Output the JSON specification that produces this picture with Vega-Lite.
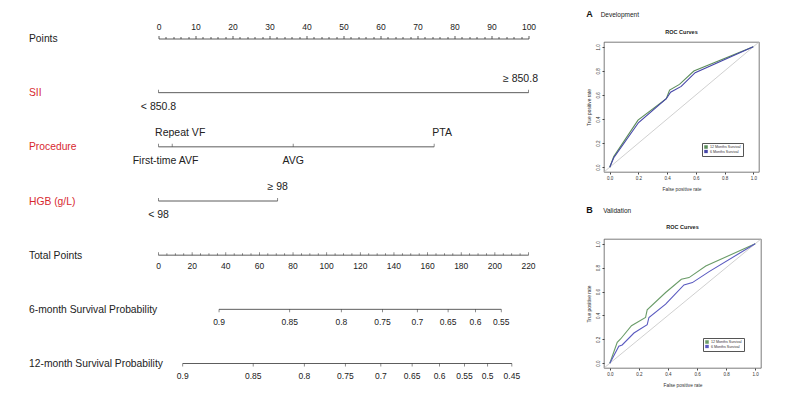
{
  "$schema": "https://vega.github.io/schema/vega-lite/v6.json",
  "background": "white",
  "padding": {"left": 28.5, "top": 10, "right": 5, "bottom": 5},
  "config": {
    "font": "Liberation Sans",
    "view": {"stroke": null},
    "axis": {"grid": false},
    "title": {"font": "Liberation Sans"},
    "legend": {"labelFont": "Liberation Sans"}
  },
  "datasets": {
    "pts_lines": [
      {"row": "SII", "pt": 0, "pt_end": 100},
      {"row": "Procedure", "pt": 0, "pt_end": 74.5},
      {"row": "HGB (g/L)", "pt": 0, "pt_end": 32.2}
    ],
    "pts_ticks": [
      {"row": "SII", "pt": 0}, {"row": "SII", "pt": 100},
      {"row": "Procedure", "pt": 0}, {"row": "Procedure", "pt": 3.7}, {"row": "Procedure", "pt": 36.4}, {"row": "Procedure", "pt": 74.5},
      {"row": "HGB (g/L)", "pt": 0}, {"row": "HGB (g/L)", "pt": 32.2}
    ],
    "pts_labels": [
      {"row": "SII", "pt": 0, "label": "< 850.8", "side": "below"},
      {"row": "SII", "pt": 100, "label": "≥ 850.8", "side": "above"},
      {"row": "Procedure", "pt": 0, "label": "First-time AVF", "side": "below"},
      {"row": "Procedure", "pt": 3.7, "label": "Repeat VF", "side": "above"},
      {"row": "Procedure", "pt": 36.4, "label": "AVG", "side": "below"},
      {"row": "Procedure", "pt": 74.5, "label": "PTA", "side": "above"},
      {"row": "HGB (g/L)", "pt": 0, "label": "< 98", "side": "below"},
      {"row": "HGB (g/L)", "pt": 32.2, "label": "≥ 98", "side": "above"}
    ],
    "tot_lines": [
      {"row": "Total Points", "tp": 0, "tp_end": 220},
      {"row": "6-month Survival Probability", "tp": 36.0, "tp_end": 203.8},
      {"row": "12-month Survival Probability", "tp": 14.4, "tp_end": 210.1}
    ],
    "tot_ticks": [
      {"row": "Total Points", "tp": 0, "kind": "major"}, {"row": "Total Points", "tp": 5, "kind": "minor"}, {"row": "Total Points", "tp": 10, "kind": "minor"}, {"row": "Total Points", "tp": 15, "kind": "minor"},
      {"row": "Total Points", "tp": 20, "kind": "major"}, {"row": "Total Points", "tp": 25, "kind": "minor"}, {"row": "Total Points", "tp": 30, "kind": "minor"}, {"row": "Total Points", "tp": 35, "kind": "minor"},
      {"row": "Total Points", "tp": 40, "kind": "major"}, {"row": "Total Points", "tp": 45, "kind": "minor"}, {"row": "Total Points", "tp": 50, "kind": "minor"}, {"row": "Total Points", "tp": 55, "kind": "minor"},
      {"row": "Total Points", "tp": 60, "kind": "major"}, {"row": "Total Points", "tp": 65, "kind": "minor"}, {"row": "Total Points", "tp": 70, "kind": "minor"}, {"row": "Total Points", "tp": 75, "kind": "minor"},
      {"row": "Total Points", "tp": 80, "kind": "major"}, {"row": "Total Points", "tp": 85, "kind": "minor"}, {"row": "Total Points", "tp": 90, "kind": "minor"}, {"row": "Total Points", "tp": 95, "kind": "minor"},
      {"row": "Total Points", "tp": 100, "kind": "major"}, {"row": "Total Points", "tp": 105, "kind": "minor"}, {"row": "Total Points", "tp": 110, "kind": "minor"}, {"row": "Total Points", "tp": 115, "kind": "minor"},
      {"row": "Total Points", "tp": 120, "kind": "major"}, {"row": "Total Points", "tp": 125, "kind": "minor"}, {"row": "Total Points", "tp": 130, "kind": "minor"}, {"row": "Total Points", "tp": 135, "kind": "minor"},
      {"row": "Total Points", "tp": 140, "kind": "major"}, {"row": "Total Points", "tp": 145, "kind": "minor"}, {"row": "Total Points", "tp": 150, "kind": "minor"}, {"row": "Total Points", "tp": 155, "kind": "minor"},
      {"row": "Total Points", "tp": 160, "kind": "major"}, {"row": "Total Points", "tp": 165, "kind": "minor"}, {"row": "Total Points", "tp": 170, "kind": "minor"}, {"row": "Total Points", "tp": 175, "kind": "minor"},
      {"row": "Total Points", "tp": 180, "kind": "major"}, {"row": "Total Points", "tp": 185, "kind": "minor"}, {"row": "Total Points", "tp": 190, "kind": "minor"}, {"row": "Total Points", "tp": 195, "kind": "minor"},
      {"row": "Total Points", "tp": 200, "kind": "major"}, {"row": "Total Points", "tp": 205, "kind": "minor"}, {"row": "Total Points", "tp": 210, "kind": "minor"}, {"row": "Total Points", "tp": 215, "kind": "minor"},
      {"row": "Total Points", "tp": 220, "kind": "major"}
    ],
    "prob_ticks": [
      {"row": "6-month Survival Probability", "tp": 36.0, "prob": "0.9"},
      {"row": "6-month Survival Probability", "tp": 78.0, "prob": "0.85"},
      {"row": "6-month Survival Probability", "tp": 108.7, "prob": "0.8"},
      {"row": "6-month Survival Probability", "tp": 133.2, "prob": "0.75"},
      {"row": "6-month Survival Probability", "tp": 153.9, "prob": "0.7"},
      {"row": "6-month Survival Probability", "tp": 172.2, "prob": "0.65"},
      {"row": "6-month Survival Probability", "tp": 188.5, "prob": "0.6"},
      {"row": "6-month Survival Probability", "tp": 203.8, "prob": "0.55"},
      {"row": "12-month Survival Probability", "tp": 14.4, "prob": "0.9"},
      {"row": "12-month Survival Probability", "tp": 56.3, "prob": "0.85"},
      {"row": "12-month Survival Probability", "tp": 86.7, "prob": "0.8"},
      {"row": "12-month Survival Probability", "tp": 111.1, "prob": "0.75"},
      {"row": "12-month Survival Probability", "tp": 132.2, "prob": "0.7"},
      {"row": "12-month Survival Probability", "tp": 150.8, "prob": "0.65"},
      {"row": "12-month Survival Probability", "tp": 167.1, "prob": "0.6"},
      {"row": "12-month Survival Probability", "tp": 181.9, "prob": "0.55"},
      {"row": "12-month Survival Probability", "tp": 195.7, "prob": "0.5"},
      {"row": "12-month Survival Probability", "tp": 210.1, "prob": "0.45"}
    ],
    "diag": [
      {"fpr": -0.04, "tpr": -0.04},
      {"fpr": 1.04, "tpr": 1.04}
    ],
    "roc": [
      {"panel": "A", "series": "12 Months Survival", "ord": 0, "fpr": 0, "tpr": 0},
      {"panel": "A", "series": "12 Months Survival", "ord": 1, "fpr": 0.028, "tpr": 0.088},
      {"panel": "A", "series": "12 Months Survival", "ord": 2, "fpr": 0.197, "tpr": 0.391},
      {"panel": "A", "series": "12 Months Survival", "ord": 3, "fpr": 0.394, "tpr": 0.569},
      {"panel": "A", "series": "12 Months Survival", "ord": 4, "fpr": 0.417, "tpr": 0.64},
      {"panel": "A", "series": "12 Months Survival", "ord": 5, "fpr": 0.486, "tpr": 0.688},
      {"panel": "A", "series": "12 Months Survival", "ord": 6, "fpr": 0.586, "tpr": 0.799},
      {"panel": "A", "series": "12 Months Survival", "ord": 7, "fpr": 1, "tpr": 1},
      {"panel": "A", "series": "6 Months Survival", "ord": 0, "fpr": 0, "tpr": 0},
      {"panel": "A", "series": "6 Months Survival", "ord": 1, "fpr": 0.028, "tpr": 0.079},
      {"panel": "A", "series": "6 Months Survival", "ord": 2, "fpr": 0.201, "tpr": 0.371},
      {"panel": "A", "series": "6 Months Survival", "ord": 3, "fpr": 0.394, "tpr": 0.569},
      {"panel": "A", "series": "6 Months Survival", "ord": 4, "fpr": 0.424, "tpr": 0.623},
      {"panel": "A", "series": "6 Months Survival", "ord": 5, "fpr": 0.498, "tpr": 0.671},
      {"panel": "A", "series": "6 Months Survival", "ord": 6, "fpr": 0.595, "tpr": 0.785},
      {"panel": "A", "series": "6 Months Survival", "ord": 7, "fpr": 1, "tpr": 1},
      {"panel": "B", "series": "12 Months Survival", "ord": 0, "fpr": 0, "tpr": 0},
      {"panel": "B", "series": "12 Months Survival", "ord": 1, "fpr": 0.051, "tpr": 0.175},
      {"panel": "B", "series": "12 Months Survival", "ord": 2, "fpr": 0.074, "tpr": 0.203},
      {"panel": "B", "series": "12 Months Survival", "ord": 3, "fpr": 0.149, "tpr": 0.314},
      {"panel": "B", "series": "12 Months Survival", "ord": 4, "fpr": 0.246, "tpr": 0.383},
      {"panel": "B", "series": "12 Months Survival", "ord": 5, "fpr": 0.257, "tpr": 0.447},
      {"panel": "B", "series": "12 Months Survival", "ord": 6, "fpr": 0.384, "tpr": 0.592},
      {"panel": "B", "series": "12 Months Survival", "ord": 7, "fpr": 0.492, "tpr": 0.703},
      {"panel": "B", "series": "12 Months Survival", "ord": 8, "fpr": 0.545, "tpr": 0.717},
      {"panel": "B", "series": "12 Months Survival", "ord": 9, "fpr": 0.66, "tpr": 0.814},
      {"panel": "B", "series": "12 Months Survival", "ord": 10, "fpr": 1, "tpr": 1},
      {"panel": "B", "series": "6 Months Survival", "ord": 0, "fpr": 0, "tpr": 0},
      {"panel": "B", "series": "6 Months Survival", "ord": 1, "fpr": 0.062, "tpr": 0.142},
      {"panel": "B", "series": "6 Months Survival", "ord": 2, "fpr": 0.085, "tpr": 0.153},
      {"panel": "B", "series": "6 Months Survival", "ord": 3, "fpr": 0.166, "tpr": 0.253},
      {"panel": "B", "series": "6 Months Survival", "ord": 4, "fpr": 0.257, "tpr": 0.322},
      {"panel": "B", "series": "6 Months Survival", "ord": 5, "fpr": 0.269, "tpr": 0.383},
      {"panel": "B", "series": "6 Months Survival", "ord": 6, "fpr": 0.384, "tpr": 0.494},
      {"panel": "B", "series": "6 Months Survival", "ord": 7, "fpr": 0.51, "tpr": 0.656},
      {"panel": "B", "series": "6 Months Survival", "ord": 8, "fpr": 0.568, "tpr": 0.675},
      {"panel": "B", "series": "6 Months Survival", "ord": 9, "fpr": 0.683, "tpr": 0.767},
      {"panel": "B", "series": "6 Months Survival", "ord": 10, "fpr": 1, "tpr": 1}
    ]
  },
  "hconcat": [
    {
      "width": 370,
      "height": 325,
      "view": {"stroke": null},
      "encoding": {
        "y": {
          "field": "row", "type": "nominal",
          "scale": {"type": "point", "padding": 0, "range": [-3.5, 321.5], "domain": ["Points", "SII", "Procedure", "HGB (g/L)", "Total Points", "6-month Survival Probability", "12-month Survival Probability"]},
          "axis": {
            "orient": "left", "title": null, "domain": false, "ticks": false,
            "labelAlign": "left", "labelBaseline": "middle", "labelPadding": 130,
            "labelFontSize": 10.3, "labelLimit": 0,
            "labelColor": {"condition": {"test": "indexof(['SII','Procedure','HGB (g/L)'], datum.value) >= 0", "value": "#d7282f"}, "value": "#222222"}
          }
        }
      },
      "layer": [
        {
          "encoding": {
            "x": {
              "field": "pt", "type": "quantitative",
              "scale": {"domain": [0, 100], "nice": false, "zero": false},
              "axis": {
                "orient": "top", "title": null, "tickCount": 50, "format": "d", "offset": 3.5,
                "labelExpr": "datum.value % 10 === 0 ? datum.label : ''",
                "labelOverlap": false, "labelFlush": false,
                "tickSize": {"condition": {"test": "datum.value % 10 === 0", "value": 3}, "value": 2},
                "tickColor": "#333333", "tickWidth": 0.8, "domainColor": "#333333", "domainWidth": 0.8,
                "labelFontSize": 8.5, "labelPadding": 4.5, "labelColor": "#222222", "grid": false
              }
            }
          },
          "layer": [
            {"data": {"name": "pts_lines"}, "mark": {"type": "rule", "color": "#333333", "strokeWidth": 0.8}, "encoding": {"x2": {"field": "pt_end"}}},
            {"data": {"name": "pts_ticks"}, "mark": {"type": "tick", "orient": "vertical", "size": 3, "thickness": 0.8, "color": "#333333", "yOffset": -1.5}},
            {"data": {"name": "pts_labels"}, "transform": [{"filter": "datum.side === 'above' && indexof(['Repeat VF','PTA','≥ 850.8'], datum.label) < 0"}], "mark": {"type": "text", "dy": -14, "fontSize": 10.5, "color": "#222222", "baseline": "middle"}, "encoding": {"text": {"field": "label"}}},
            {"data": {"name": "pts_labels"}, "transform": [{"filter": "indexof(['Repeat VF','PTA'], datum.label) >= 0"}], "mark": {"type": "text", "dy": -14, "dx": 8, "fontSize": 10.5, "color": "#222222", "baseline": "middle"}, "encoding": {"text": {"field": "label"}}},
            {"data": {"name": "pts_labels"}, "transform": [{"filter": "datum.label === '≥ 850.8'"}], "mark": {"type": "text", "dy": -14, "dx": -8, "fontSize": 10.5, "color": "#222222", "baseline": "middle"}, "encoding": {"text": {"field": "label"}}},
            {"data": {"name": "pts_labels"}, "transform": [{"filter": "datum.side === 'below' && datum.label !== 'First-time AVF'"}], "mark": {"type": "text", "dy": 14, "fontSize": 10.5, "color": "#222222", "baseline": "middle"}, "encoding": {"text": {"field": "label"}}},
            {"data": {"name": "pts_labels"}, "transform": [{"filter": "datum.label === 'First-time AVF'"}], "mark": {"type": "text", "dy": 14, "dx": 7, "fontSize": 10.5, "color": "#222222", "baseline": "middle"}, "encoding": {"text": {"field": "label"}}}
          ]
        },
        {
          "encoding": {
            "x": {"field": "tp", "type": "quantitative", "scale": {"domain": [0, 220], "nice": false, "zero": false}, "axis": null}
          },
          "layer": [
            {"data": {"name": "tot_lines"}, "mark": {"type": "rule", "color": "#333333", "strokeWidth": 0.8}, "encoding": {"x2": {"field": "tp_end"}}},
            {"data": {"name": "tot_ticks"}, "transform": [{"filter": "datum.kind === 'major'"}], "mark": {"type": "tick", "orient": "vertical", "size": 3, "thickness": 0.8, "color": "#333333", "yOffset": -1.5}},
            {"data": {"name": "tot_ticks"}, "transform": [{"filter": "datum.kind === 'minor'"}], "mark": {"type": "tick", "orient": "vertical", "size": 2, "thickness": 0.8, "color": "#333333", "yOffset": -1}},
            {"data": {"name": "tot_ticks"}, "transform": [{"filter": "datum.kind === 'major'"}], "mark": {"type": "text", "dy": 11, "fontSize": 8.5, "color": "#222222", "baseline": "middle"}, "encoding": {"text": {"field": "tp", "type": "quantitative", "format": "d"}}},
            {"data": {"name": "prob_ticks"}, "mark": {"type": "tick", "orient": "vertical", "size": 3, "thickness": 0.8, "color": "#333333", "yOffset": 1.5}},
            {"data": {"name": "prob_ticks"}, "mark": {"type": "text", "dy": 12.5, "fontSize": 8.5, "color": "#222222", "baseline": "middle"}, "encoding": {"text": {"field": "prob"}}}
          ]
        }
      ],
      "resolve": {"scale": {"x": "independent"}}
    },
    {
      "spacing": 14,
      "resolve": {"scale": {"color": "independent"}, "legend": {"color": "independent"}},
      "vconcat": [
        {
          "title": {"text": "A", "anchor": "start", "fontSize": 9, "fontWeight": "bold", "color": "#111111", "offset": 0, "dy": 7.75},
          "resolve": {"scale": {"color": "independent"}, "legend": {"color": "independent"}},
          "vconcat": [
            {
              "title": {"text": "Development", "anchor": "start", "fontSize": 6.5, "fontWeight": "normal", "color": "#222222", "offset": 11.5, "dx": 14.5},
              "resolve": {"scale": {"color": "independent"}, "legend": {"color": "independent"}},
              "vconcat": [
                {
                  "width": 155, "height": 130,
                  "view": {"stroke": "#444444", "strokeWidth": 0.7},
                  "title": {"text": "ROC Curves", "fontSize": 5.5, "fontWeight": "bold", "offset": 5.25, "anchor": "middle", "color": "#222222"},
                  "encoding": {
                    "x": {"field": "fpr", "type": "quantitative", "scale": {"domain": [-0.04, 1.04], "nice": false, "zero": false}, "axis": {"values": [0, 0.2, 0.4, 0.6, 0.8, 1], "format": ".1f", "title": "False positive rate", "labelFontSize": 4.5, "titleFontSize": 4.8, "titleFontWeight": "normal", "tickSize": 2, "labelPadding": 1.5, "titlePadding": 6, "domain": false, "tickColor": "#444444", "labelColor": "#333333", "titleColor": "#333333", "labelFlush": false, "labelOverlap": false}},
                    "y": {"field": "tpr", "type": "quantitative", "scale": {"domain": [-0.04, 1.04], "nice": false, "zero": false}, "axis": {"values": [0, 0.2, 0.4, 0.6, 0.8, 1], "format": ".1f", "title": "True positive rate", "labelFontSize": 4.5, "titleFontSize": 4.8, "titleFontWeight": "normal", "tickSize": 2, "labelPadding": 1.5, "titlePadding": 4, "domain": false, "tickColor": "#444444", "labelColor": "#333333", "titleColor": "#333333", "labelAngle": 270, "labelAlign": "center", "labelBaseline": "bottom", "labelFlush": false, "labelOverlap": false}}
                  },
                  "layer": [
                    {
                      "data": {"name": "diag"},
                      "mark": {"type": "line", "color": "#bbbbbb", "strokeWidth": 0.7}
                    },
                    {
                      "data": {"name": "roc"},
                      "transform": [{"filter": "datum.panel === 'A'"}],
                      "mark": {"type": "line", "strokeWidth": 1.1},
                      "encoding": {
                        "order": {"field": "ord"},
                        "color": {"field": "series", "type": "nominal", "scale": {"domain": ["12 Months Survival", "6 Months Survival"], "range": ["#5b8c5a", "#4646a8"]}, "legend": {"orient": "bottom-right", "offset": 16, "title": null, "symbolType": "square", "symbolSize": 3, "symbolStrokeWidth": 1.8, "labelFontSize": 3.6, "labelColor": "#333333", "strokeColor": "#555555", "padding": 2, "rowPadding": 0.5, "clipHeight": 4, "labelOffset": 2, "fillColor": "white"}}
                      }
                    }
                  ]
                }
              ]
            }
          ]
        },
        {
          "title": {"text": "B", "anchor": "start", "fontSize": 9, "fontWeight": "bold", "color": "#111111", "offset": 0, "dy": 7.75},
          "resolve": {"scale": {"color": "independent"}, "legend": {"color": "independent"}},
          "vconcat": [
            {
              "title": {"text": "Validation", "anchor": "start", "fontSize": 6.5, "fontWeight": "normal", "color": "#222222", "offset": 10.7, "dx": 17},
              "resolve": {"scale": {"color": "independent"}, "legend": {"color": "independent"}},
              "vconcat": [
                {
                  "width": 157, "height": 129,
                  "view": {"stroke": "#444444", "strokeWidth": 0.7},
                  "title": {"text": "ROC Curves", "fontSize": 5.5, "fontWeight": "bold", "offset": 7, "anchor": "middle", "color": "#222222"},
                  "encoding": {
                    "x": {"field": "fpr", "type": "quantitative", "scale": {"domain": [-0.04, 1.04], "nice": false, "zero": false}, "axis": {"values": [0, 0.2, 0.4, 0.6, 0.8, 1], "format": ".1f", "title": "False positive rate", "labelFontSize": 4.5, "titleFontSize": 4.8, "titleFontWeight": "normal", "tickSize": 2, "labelPadding": 1.5, "titlePadding": 6, "domain": false, "tickColor": "#444444", "labelColor": "#333333", "titleColor": "#333333", "labelFlush": false, "labelOverlap": false}},
                    "y": {"field": "tpr", "type": "quantitative", "scale": {"domain": [-0.04, 1.04], "nice": false, "zero": false}, "axis": {"values": [0, 0.2, 0.4, 0.6, 0.8, 1], "format": ".1f", "title": "True positive rate", "labelFontSize": 4.5, "titleFontSize": 4.8, "titleFontWeight": "normal", "tickSize": 2, "labelPadding": 1.5, "titlePadding": 4, "domain": false, "tickColor": "#444444", "labelColor": "#333333", "titleColor": "#333333", "labelAngle": 270, "labelAlign": "center", "labelBaseline": "bottom", "labelFlush": false, "labelOverlap": false}}
                  },
                  "layer": [
                    {
                      "data": {"name": "diag"},
                      "mark": {"type": "line", "color": "#bbbbbb", "strokeWidth": 0.7}
                    },
                    {
                      "data": {"name": "roc"},
                      "transform": [{"filter": "datum.panel === 'B'"}],
                      "mark": {"type": "line", "strokeWidth": 1.1},
                      "encoding": {
                        "order": {"field": "ord"},
                        "color": {"field": "series", "type": "nominal", "scale": {"domain": ["12 Months Survival", "6 Months Survival"], "range": ["#6a9c68", "#5a5ac0"]}, "legend": {"orient": "bottom-right", "offset": 17, "title": null, "symbolType": "square", "symbolSize": 3, "symbolStrokeWidth": 1.8, "labelFontSize": 3.6, "labelColor": "#333333", "strokeColor": "#555555", "padding": 2, "rowPadding": 0.5, "clipHeight": 4, "labelOffset": 2, "fillColor": "white"}}
                      }
                    }
                  ]
                }
              ]
            }
          ]
        }
      ]
    }
  ],
  "spacing": 47.5,
  "resolve": {"scale": {"color": "independent"}, "legend": {"color": "independent"}}
}
